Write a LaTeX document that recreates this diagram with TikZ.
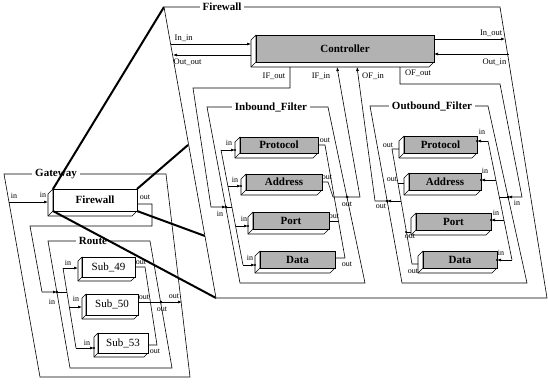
\documentclass[tikz,border=0pt]{standalone}
\usepackage{fontspec}
\setmainfont{Liberation Serif}
\usetikzlibrary{calc,arrows.meta}
\tikzset{
  frame/.style={draw, line width=0.6pt},
  wire/.style={draw, line width=0.6pt},
  arr/.style={wire, -{Latex[length=4pt,width=3pt]}},
  zoomln/.style={line width=2pt},
  title/.style={font=\fontsize{11}{12}\selectfont\bfseries, fill=white, inner xsep=3pt, inner ysep=1pt},
  plab/.style={font=\fontsize{8}{9}\selectfont, inner sep=0.5pt},
  clab/.style={font=\fontsize{8.5}{9}\selectfont, inner sep=0.5pt},
  pdot/.style={circle, fill, inner sep=0pt, minimum size=3pt},
  face/.style={draw, line width=0.6pt, inner sep=0pt, outer sep=0pt, font=\fontsize{11}{12}\selectfont\bfseries},
  shade/.style={fill=black!30},
  plain/.style={fill=white},
  subfont/.style={font=\fontsize{11}{12}\selectfont},
  side/.style={draw, fill=white, line width=0.6pt, line join=round},
}
% 3-D block: name, x1, y1, x2, y2, depth, face style, text
\newcommand\solidbox[8]{%
  \draw[side] (#2,#3) -- ++(-#6,#6) -- ++(0,#5-#3) -- ++(#4-#2,0) -- (#4,#5) -- (#2,#5) -- cycle;
  \draw[side] (#2,#5) -- ++(-#6,#6);
  \node[face,#7,minimum width={(#4)-(#2)},minimum height={(#5)-(#3)}] (#1) at ({(#2+#4)/2},{(#3+#5)/2}) {#8};
}
\newcommand\tipdot[2]{\fill (#1,#2) circle (1.2pt);}
\begin{document}
\begin{tikzpicture}[x=1pt,y=-1pt]
\useasboundingbox (0,0) rectangle (548,383);

% ---------------- Gateway ----------------
\draw[frame] (4,174) -- (166,174) -- (190,377) -- (40,377) -- cycle;
\node[title] (tgw) at (56,174) {Gateway};
\solidbox{gfw}{53}{189}{137}{211}{5}{plain}{Firewall}
\coordinate (gin) at (9,202);
\draw[arr] (gin) -- (48,202);
\node[plab] (lgin) at (14,196) {in};
\node[plab] (lgfwin) at (43,195) {in};
\node[plab] (lgfwout) at (145,197) {out};
\coordinate (rin) at (57,292);
\draw[arr] (137,204) -- (152,204) -- (152,226) -- (30,226) -- (42,292) -- (rin);
\node[pdot] (rindot) at (rin) {};
\node[plab] (lrin) at (52,302) {in};

% Route
\draw[frame] (48,241) -- (150,241) -- (172,368) -- (70,368) -- cycle;
\node[title] (troute) at (93,241) {Route};
\solidbox{sub49}{82}{257}{135}{277}{4}{plain,subfont}{Sub\_49}
\solidbox{sub50}{86}{294}{138}{315}{4}{plain,subfont}{Sub\_50}
\solidbox{sub53}{98}{333}{148}{353}{4}{plain,subfont}{Sub\_53}
\draw[wire] (63,268) -- (76,348);
\draw[wire] (rin) -- (67,292);
\draw[arr] (63,268) -- (78,268);
\draw[arr] (69,307) -- (82,307);
\draw[arr] (76,348) -- (94,348); \tipdot{94}{348}
\node[plab] (l49in) at (68,263) {in};
\node[plab] (l50in) at (76,299) {in};
\node[plab] (l53in) at (87,343) {in};
\coordinate (rout) at (161,302);
\coordinate (gout) at (182,302);
\draw[wire] (135,267) -- (145,267) -- (157,345) -- (148,345);
\draw[wire] (138,302) -- (rout);
\node[pdot] (routdot) at (rout) {};
\draw[arr] (rout) -- (gout);
\node[plab] (l49out) at (141,262) {out};
\node[plab] (l50out) at (144,297) {out};
\node[plab] (l53out) at (155,351) {out};
\node[plab] (lrout) at (162,309) {out};
\node[plab] (lgout) at (174,296) {out};

% zoom lines from the Firewall block to its expanded view
\draw[zoomln] (gfw.north west) -- (164,7);
\draw[zoomln] (gfw.north east) -- (188,145);
\draw[zoomln] (gfw.south east) -- (205,236);
\draw[zoomln] (gfw.south west) -- (216,298);

% ---------------- Firewall (expanded) ----------------
\draw[frame, fill=white] (164,7) -- (500,7) -- (547,298) -- (216,298) -- cycle;
\node[title] (tfw) at (222,7) {Firewall};
\solidbox{ctrl}{256}{35}{434}{62}{5}{shade}{Controller}
\draw[arr] (171,44) -- (251,44);
\node[clab, anchor=west] (linin) at (174,38) {In\_in};
\draw[arr] (251,55) -- (173,55);
\node[clab, anchor=west] (loutout) at (173,62) {Out\_out};
\draw[arr] (434,39) -- (505,39);
\node[clab, anchor=east] (linout) at (503,33) {In\_out};
\draw[arr] (509,54) -- (434,54);
\node[clab, anchor=east] (loutin) at (507,62) {Out\_in};
\node[clab] (lifout) at (274,76) {IF\_out};
\node[clab] (lifin) at (321,76) {IF\_in};
\node[clab] (lofin) at (373,76) {OF\_in};
\node[clab] (lofout) at (418,73) {OF\_out};

% Inbound filter
\draw[frame] (207,107) -- (328,107) -- (365,283) -- (240,283) -- cycle;
\node[title] (tin) at (271,107) {Inbound\_Filter};
\solidbox{ip}{240}{137}{318}{153}{5}{shade}{Protocol}
\solidbox{ia}{246}{174}{322}{190}{5}{shade}{Address}
\solidbox{ipt}{253}{212}{329}{229}{5}{shade}{Port}
\solidbox{id}{260}{251}{335}{268}{5}{shade}{Data}
\coordinate (iin) at (226,207);
\coordinate (iout) at (347,197);
\draw[wire] (221,150) -- (243,265);
\draw[wire] (iin) -- (232,207);
\draw[arr] (221,150) -- (235,150); \tipdot{235}{150}
\draw[arr] (228,186) -- (241,186); \tipdot{241}{186}
\draw[arr] (236,226) -- (248,226); \tipdot{248}{226}
\draw[arr] (243,265) -- (255,265); \tipdot{255}{265}
\draw[wire] (318,145) -- (325,145) -- (345,258) -- (335,258);
\draw[wire] (322,182) -- (328,182) -- (333,197) -- (iout);
\draw[wire] (329,221) -- (338,221);
\node[pdot] (iindot) at (iin) {};
\node[pdot] (ioutdot) at (iout) {};
\node[plab] (lipin) at (229,143) {in};
\node[plab] (liain) at (235,180) {in};
\node[plab] (liptin) at (244,219) {in};
\node[plab] (lidin) at (250,258) {in};
\node[plab] (lipout) at (325,140) {out};
\node[plab] (liaout) at (327,177) {out};
\node[plab] (liptout) at (334,216) {out};
\node[plab] (lidout) at (347,264) {out};
\node[plab] (liin) at (220,214) {in};
\node[plab] (liout) at (347,204) {out};

% Outbound filter
\draw[frame] (370,106) -- (488,106) -- (527,283) -- (402,283) -- cycle;
\node[title] (tout) at (432,106) {Outbound\_Filter};
\solidbox{op}{404}{136}{477}{153}{5}{shade}{Protocol}
\solidbox{oa}{409}{173}{481}{190}{5}{shade}{Address}
\solidbox{opt}{416}{213}{491}{230}{5}{shade}{Port}
\solidbox{od}{423}{251}{497}{268}{5}{shade}{Data}
\coordinate (oin) at (508,197);
\coordinate (oout) at (387,201);
\draw[wire] (488,141) -- (512,260);
\draw[wire] (oin) -- (499,197);
\draw[arr] (488,141) -- (477,141); \tipdot{477}{141}
\draw[arr] (496,180) -- (481,180); \tipdot{481}{180}
\draw[arr] (504,220) -- (491,220); \tipdot{491}{220}
\draw[arr] (512,260) -- (497,260); \tipdot{497}{260}
\draw[wire] (399,149) -- (392,149) -- (412,264) -- (418,264);
\draw[wire] (404,183) -- (398,183);
\draw[wire] (411,232) -- (406,232); \tipdot{406}{232}
\draw[arr] (401,201) -- (oout);
\node[pdot] (oindot) at (oin) {};
\node[pdot] (ooutdot) at (oout) {};
\node[plab] (lopin) at (482,132) {in};
\node[plab] (loain) at (485,171) {in};
\node[plab] (loptin) at (496,213) {in};
\node[plab] (lodin) at (501,253) {in};
\node[plab] (lopout) at (388,145) {out};
\node[plab] (loaout) at (392,179) {out};
\node[plab] (loptout) at (410,236) {out};
\node[plab] (lodout) at (413,271) {out};
\node[plab] (loin) at (517,203) {in};
\node[plab] (loout) at (381,206) {out};

% wiring between the controller and the filters
\draw[arr] (290,67) -- (290,88) -- (193,88) -- (211,207) -- (iin);
\draw[arr] (iout) -- (360,197) -- (337,67);
\draw[arr] (oout) -- (375,201) -- (357,67);
\draw[arr] (400,67) -- (400,84) -- (500,84) -- (522,197) -- (oin);
\end{tikzpicture}
\end{document}
